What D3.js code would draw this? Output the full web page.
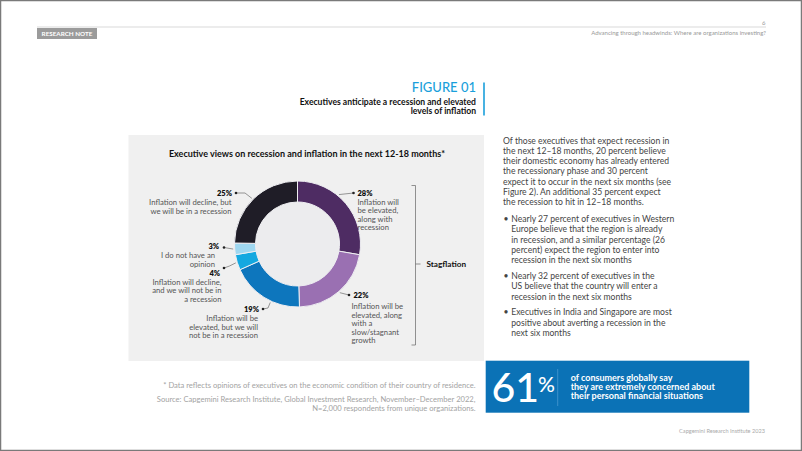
<!DOCTYPE html>
<html><head><meta charset="utf-8">
<script src="https://cdn.jsdelivr.net/npm/d3@7"></script>
<style>
html,body{margin:0;padding:0;background:#fff;}
svg{display:block;font-family:Lato,"Open Sans",sans-serif;}
</style></head>
<body><svg id="c" width="802" height="451"></svg>
<script>
// ---- data ----
const categories = [
  "Inflation will be elevated, along with recession",
  "Inflation will be elevated, along with a slow/stagnant growth",
  "Inflation will be elevated, but we will not be in a recession",
  "Inflation will decline, and we will not be in a recession",
  "I do not have an opinion",
  "Inflation will decline, but we will be in a recession"
];
const values = [28, 22, 19, 4, 3, 25];
const valueLabels = ["28%", "22%", "19%", "4%", "3%", "25%"];
const labelLines = [
  ["Inflation will", "be elevated,", "along with", "recession"],
  ["Inflation will be", "elevated, along", "with a", "slow/stagnant", "growth"],
  ["Inflation will be", "elevated, but we will", "not be in a recession"],
  ["Inflation will decline,", "and we will not be in", "a recession"],
  ["I do not have an", "opinion"],
  ["Inflation will decline, but", "we will be in a recession"]
];
const colors = ["#4e2c63", "#9a70b2", "#0d76bd", "#14a8e0", "#9fd7f0", "#1f1d27"];
const groupLabel = "Stagflation";
const chartTitle = "Executive views on recession and inflation in the next 12-18 months*";
const figureNo = "FIGURE 01";
const figureTitle = ["Executives anticipate a recession and elevated", "levels of inflation"];
const bodyPara = ["Of those executives that expect recession in","the next 12–18 months, 20 percent believe","their domestic economy has already entered","the recessionary phase and 30 percent","expect it to occur in the next six months (see","Figure 2). An additional 35 percent expect","the recession to hit in 12–18 months."];
const bullets = [
  ["Nearly 27 percent of executives in Western","Europe believe that the region is already","in recession, and a similar percentage (26","percent) expect the region to enter into","recession in the next six months"],
  ["Nearly 32 percent of executives in the","US believe that the country will enter a","recession in the next six months"],
  ["Executives in India and Singapore are most","positive about averting a recession in the","next six months"]
];
const statValue = "61";
const statLines = ["of consumers globally say","they are extremely concerned about","their personal financial situations"];
const notes = ["* Data reflects opinions of executives on the economic condition of their country of residence.","Source: Capgemini Research Institute, Global Investment Research, November–December 2022,","N=2,000 respondents from unique organizations."];

// ---- layout (annotation placement, relative to donut centre) ----
const cx = 297.5, cy = 244, rOut = 63, rIn = 42;
const leaderAngle = [40, 139, 205, 253, 265.5, 315];   // degrees where leader leaves ring
const leaderElbow = [null, null, [-29.5, 64], [-68, 22], null, [-52.5, -51]];
const leaderDot   = [[56, -51], [51.5, 51], [-34.5, 65], [-73.5, 24], [-73.5, 3.5], [-61.5, -51]];
const labelSide   = [1, 1, -1, -1, -1, -1];
const labelText0  = [[60, -48.5], [56, 54], [-38.5, 68], [-77.5, 31.5], [-78.5, 4.5], [-65.5, -48]];
const labelTextDy = [[60, -39.5], [54, 65], [-39.5, 77], [-76, 40.5], [-82.5, 14], [-66, -39]];
const lineH = 8.6;

const svg = d3.select("#c");
// page frame
svg.append("rect").attr("x",0.5).attr("y",0.5).attr("width",801).attr("height",450)
  .attr("fill","#fff").attr("stroke","#7a7a7a").attr("stroke-width",1.5);

// header
svg.append("line").attr("x1",37).attr("x2",766).attr("y1",27).attr("y2",27).attr("stroke","#cfcfcf").attr("stroke-width",0.8);
svg.append("rect").attr("x",37).attr("y",28).attr("width",60).attr("height",11).attr("fill","#9b9b9b");
svg.append("text").attr("x",67).attr("y",36.3).attr("text-anchor","middle").attr("fill","#fff")
  .attr("font-size",6.3).attr("font-weight",700).text("RESEARCH NOTE");
svg.append("text").attr("x",765.5).attr("y",24.5).attr("text-anchor","end").attr("fill","#999").attr("font-size",6).text("6");
svg.append("text").attr("x",766).attr("y",34.5).attr("text-anchor","end").attr("fill","#999").attr("font-size",6)
  .text("Advancing through headwinds: Where are organizations investing?");

// figure title
svg.append("text").attr("x",476).attr("y",91.5).attr("text-anchor","end").attr("fill","#1a9fdb")
  .attr("font-size",13).attr("font-weight",500).text(figureNo);
figureTitle.forEach((t,i)=>svg.append("text").attr("x",476).attr("y",104.5+i*9.7).attr("text-anchor","end")
  .attr("fill","#111").attr("font-size",8.6).attr("font-weight",700).text(t));
svg.append("line").attr("x1",484).attr("x2",484).attr("y1",82.5).attr("y2",115.5).attr("stroke","#1a9fdb").attr("stroke-width",1.6);

// chart panel
svg.append("rect").attr("x",128.5).attr("y",135).attr("width",355.5).attr("height",226).attr("fill","#f0f0f0");
svg.append("text").attr("x",307).attr("y",157).attr("text-anchor","middle").attr("fill","#111")
  .attr("font-size",9).attr("font-weight",700).text(chartTitle);

// donut
const pie = d3.pie().sort(null).value(d=>d).startAngle(0).endAngle(2*Math.PI);
const arcs = pie(values);
const arc = d3.arc().innerRadius(rIn).outerRadius(rOut);
const g = svg.append("g").attr("transform",`translate(${cx},${cy})`);
g.selectAll("path").data(arcs).join("path").attr("d",arc)
  .attr("fill",(d,i)=>colors[i]).attr("stroke","#eeeef2").attr("stroke-width",1);
g.append("circle").attr("r",rIn-0.5).attr("fill","#ececee");

// leaders & labels
arcs.forEach((a,i)=>{
  const ang = leaderAngle[i]*Math.PI/180, r0 = rOut + 1.5;
  const pts = [[r0*Math.sin(ang), -r0*Math.cos(ang)]];
  if (leaderElbow[i]) pts.push(leaderElbow[i]);
  pts.push(leaderDot[i]);
  g.append("path").attr("d",d3.line()(pts)).attr("fill","none").attr("stroke","#555").attr("stroke-width",0.6);
  g.append("circle").attr("cx",leaderDot[i][0]).attr("cy",leaderDot[i][1]).attr("r",1.3).attr("fill","#222");
  const anchor = labelSide[i] > 0 ? "start" : "end";
  g.append("text").attr("x",labelText0[i][0]).attr("y",labelText0[i][1]).attr("text-anchor",anchor)
    .attr("font-size",7.5).attr("font-weight",800).attr("fill","#111").text(valueLabels[i]);
  labelLines[i].forEach((t,j)=>g.append("text").attr("x",labelTextDy[i][0]).attr("y",labelTextDy[i][1]+j*lineH)
    .attr("text-anchor",anchor).attr("font-size",7.7).attr("fill","#555").text(t));
});

// stagflation bracket
const b = svg.append("g").attr("stroke","#666").attr("stroke-width",0.7).attr("fill","none");
b.append("path").attr("d","M411.5,185.5H415.5V345H411.5");
b.append("path").attr("d","M415.5,264H420.5");
svg.append("text").attr("x",426.5).attr("y",267).attr("fill","#111").attr("font-size",8.2)
  .attr("font-weight",700).text(groupLabel);

// body text
const bodyX = 503, textCol = "#444", bfs = 8.6;
bodyPara.forEach((t,i)=>svg.append("text").attr("x",bodyX).attr("y",143.5+i*10.25).attr("fill",textCol).attr("font-size",bfs).text(t));
let by = 222;
bullets.forEach(lines=>{
  svg.append("text").attr("x",bodyX+0.5).attr("y",by).attr("fill",textCol).attr("font-size",bfs).text("•");
  lines.forEach((t,j)=>svg.append("text").attr("x",bodyX+8.3).attr("y",by+j*10.3).attr("fill",textCol).attr("font-size",bfs).text(t));
  by += lines.length*10.3 + 5.4;
});

// stat box
svg.append("rect").attr("x",485.7).attr("y",360.7).attr("width",263.6).attr("height",52).attr("fill","#0b72b6");
const st = svg.append("text").attr("x",491.5).attr("y",402).attr("fill","#fff").attr("font-size",41).attr("font-weight",500);
st.append("tspan").text(statValue);
st.append("tspan").attr("dx",-1).attr("dy",-10).attr("font-size",21).text("%");
svg.append("line").attr("x1",557.7).attr("x2",557.7).attr("y1",369).attr("y2",406).attr("stroke","#4a98cf").attr("stroke-width",0.8);
statLines.forEach((t,i)=>svg.append("text").attr("x",570.7).attr("y",380.5+i*9.4).attr("fill","#fff")
  .attr("font-size",9).attr("font-weight",700).text(t));

// notes
notes.forEach((t,i)=>svg.append("text").attr("x",475.5).attr("y",[387.5,401.5,411][i]).attr("text-anchor","end")
  .attr("fill","#a3a3a3").attr("font-size",7.6).text(t));

// footer
svg.append("text").attr("x",765).attr("y",433).attr("text-anchor","end").attr("fill","#aaa").attr("font-size",5.6)
  .text("Capgemini Research Institute 2023");
</script></body></html>
